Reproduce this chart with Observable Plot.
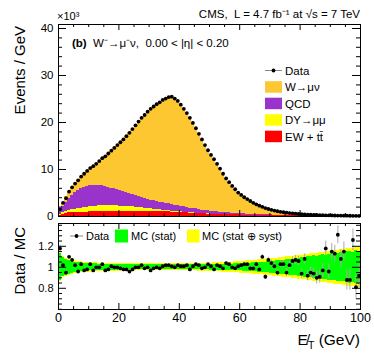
<!DOCTYPE html>
<html><head><meta charset="utf-8">
<script src="https://cdn.jsdelivr.net/npm/d3@7"></script>
<script src="https://cdn.jsdelivr.net/npm/@observablehq/plot@0.6"></script>
<style>
body{margin:0;background:#fff;}
#c{position:relative;width:374px;height:359px;font-family:"Liberation Sans",Arial,sans-serif;}
#c svg{position:absolute;left:0;overflow:visible;}
text{white-space:pre;}
</style></head><body><div id="c"></div>
<script>
// bin lower edges (GeV), 1 GeV bins
const binEdges = d3.range(0, 100);
// Events / GeV (x10^3)
const dataVals = [1.5,2.9,3.9,5.3,6.2,7.0,7.7,8.5,9.1,9.7,
10.3,10.7,11.2,11.8,12.4,12.8,13.4,14.0,14.6,15.2,
15.8,16.4,17.1,17.8,18.6,19.4,20.2,21.0,21.6,22.3,
22.9,23.4,23.9,24.3,24.8,25.1,25.4,25.5,25.1,24.6,
23.8,22.9,22.0,21.0,19.9,18.8,17.6,16.4,15.2,14.1,
13.1,12.2,11.2,10.2,9.1,8.1,7.3,6.5,5.8,5.1,
4.6,4.1,3.7,3.3,2.9,2.6,2.3,2.05,1.8,1.6,
1.42,1.26,1.12,1.0,0.9,0.81,0.73,0.66,0.6,0.54,
0.49,0.45,0.41,0.38,0.35,0.32,0.3,0.28,0.26,0.24,
0.22,0.21,0.2,0.19,0.18,0.17,0.16,0.15,0.14,0.13];
const ewVals = [0.3,0.5,0.65,0.75,0.8,0.85,0.88,0.9,0.92,0.94,
0.96,0.98,1.0,1.02,1.04,1.05,1.06,1.07,1.08,1.1,
1.12,1.13,1.14,1.15,1.16,1.17,1.16,1.15,1.14,1.12,
1.1,1.08,1.06,1.04,1.02,1.0,0.97,0.94,0.9,0.87,
0.84,0.8,0.76,0.72,0.68,0.65,0.62,0.59,0.56,0.53,
0.5,0.48,0.46,0.44,0.42,0.4,0.38,0.36,0.34,0.32,
0.3,0.29,0.27,0.26,0.25,0.23,0.22,0.21,0.2,0.19,
0.18,0.17,0.16,0.15,0.14,0.13,0.13,0.12,0.11,0.11,
0.1,0.1,0.09,0.09,0.08,0.08,0.08,0.07,0.07,0.07,
0.06,0.06,0.06,0.06,0.05,0.05,0.05,0.05,0.05,0.04];
const dyVals = [0.15,0.3,0.4,0.5,0.6,0.7,0.8,0.9,0.95,1.0,
1.1,1.15,1.2,1.22,1.25,1.25,1.25,1.24,1.2,1.15,
1.1,1.05,1.0,0.95,0.88,0.82,0.76,0.7,0.64,0.58,
0.52,0.47,0.42,0.37,0.32,0.28,0.24,0.21,0.18,0.15,
0.13,0.11,0.09,0.08,0.07,0.06,0.05,0.04,0.04,0.03,
0.03,0.03,0.02,0.02,0.02,0.02,0.02,0.02,0.01,0.01,
0.01,0.01,0.01,0.01,0.01,0.01,0.01,0.01,0.01,0.01,
0,0,0,0,0,0,0,0,0,0,
0,0,0,0,0,0,0,0,0,0,
0,0,0,0,0,0,0,0,0,0];
const qcdVals = [0.6,1.3,2.0,2.6,3.1,3.6,3.9,4.1,4.3,4.4,
4.5,4.4,4.5,4.3,4.2,4.0,3.9,3.7,3.6,3.5,
3.3,3.1,3.0,2.8,2.6,2.5,2.3,2.2,2.0,1.9,
1.8,1.75,1.7,1.6,1.55,1.5,1.5,1.4,1.35,1.3,
1.25,1.2,1.1,1.0,0.95,0.9,0.8,0.75,0.7,0.65,
0.6,0.55,0.5,0.48,0.45,0.4,0.37,0.35,0.32,0.3,
0.28,0.26,0.25,0.23,0.22,0.2,0.19,0.18,0.17,0.16,
0.15,0.14,0.13,0.12,0.11,0.1,0.1,0.09,0.08,0.08,
0.07,0.07,0.06,0.06,0.05,0.05,0.05,0.04,0.04,0.04,
0.03,0.03,0.03,0.03,0.03,0.02,0.02,0.02,0.02,0.02];
const wVals = [0.25,0.75,1.1,1.3,1.55,1.8,2.15,2.55,2.95,3.35,
3.7,4.15,4.5,5.2,5.8,6.5,7.1,7.9,8.7,9.4,
10.3,11.1,12.0,12.9,13.9,14.9,15.9,16.9,17.8,18.7,
19.5,20.1,20.7,21.3,21.9,22.3,22.7,22.9,22.7,22.3,
21.6,20.8,20.0,19.2,18.2,17.2,16.1,15.0,13.9,12.8,
11.9,11.0,10.1,9.2,8.2,7.2,6.5,5.7,5.1,4.4,
4.01,3.54,3.17,2.8,2.42,2.16,1.88,1.64,1.44,1.24,
1.08,0.94,0.83,0.73,0.65,0.58,0.5,0.45,0.41,0.35,
0.32,0.28,0.26,0.23,0.22,0.19,0.17,0.17,0.15,0.13,
0.13,0.12,0.11,0.1,0.1,0.1,0.09,0.08,0.07,0.07];
// Data / MC
const ratioVals = [1.18,1.02,0.95,1.1,1.07,1.02,0.96,1.03,0.97,0.98,
1.03,0.97,1.0,1.0,1.03,0.97,0.98,1.01,1.0,1.0,
0.99,0.98,0.98,0.96,0.98,1.0,1.0,1.02,0.99,1.0,
0.97,0.99,1.0,0.99,1.01,1.02,1.02,1.01,1.0,1.02,
1.01,1.01,1.02,0.98,1.01,1.03,1.02,0.99,1.0,1.03,
1.01,0.98,1.02,1.01,0.99,1.04,1.03,1.0,0.99,1.01,
1.02,1.03,1.03,0.99,0.99,1.03,0.98,1.1,0.91,1.07,
1.04,1.01,0.95,1.03,1.03,0.95,1.02,1.06,1.07,1.06,
0.94,1.08,0.92,0.95,0.94,0.9,0.91,0.97,1.18,0.96,
1.15,1.13,1.31,1.08,1.15,0.88,0.88,1.26,0.81,0.92];
const ratioErr = [0.03,0.02,0.016,0.014,0.013,0.012,0.011,0.011,0.01,0.01,
0.01,0.01,0.01,0.01,0.01,0.01,0.01,0.01,0.01,0.01,
0.008,0.008,0.008,0.008,0.008,0.008,0.008,0.008,0.008,0.008,
0.008,0.008,0.008,0.008,0.008,0.008,0.008,0.008,0.008,0.008,
0.008,0.008,0.008,0.008,0.008,0.008,0.008,0.008,0.008,0.008,
0.009,0.009,0.01,0.01,0.011,0.011,0.012,0.012,0.013,0.014,
0.015,0.016,0.016,0.017,0.019,0.02,0.021,0.022,0.024,0.025,
0.027,0.028,0.03,0.032,0.033,0.035,0.037,0.039,0.041,0.043,
0.045,0.048,0.05,0.053,0.056,0.06,0.062,0.066,0.07,0.073,
0.077,0.08,0.085,0.088,0.092,0.095,0.1,0.105,0.11,0.115];
const statBand = [0.13,0.09,0.075,0.065,0.055,0.05,0.045,0.042,0.04,0.037,
0.035,0.033,0.032,0.03,0.03,0.029,0.028,0.028,0.027,0.027,
0.026,0.025,0.026,0.025,0.024,0.025,0.024,0.023,0.024,0.023,
0.023,0.022,0.023,0.022,0.022,0.021,0.022,0.021,0.022,0.021,
0.022,0.022,0.023,0.022,0.023,0.023,0.024,0.024,0.025,0.025,
0.026,0.026,0.027,0.028,0.028,0.029,0.03,0.031,0.032,0.033,
0.035,0.036,0.038,0.04,0.041,0.044,0.046,0.048,0.05,0.053,
0.056,0.058,0.061,0.065,0.067,0.071,0.074,0.078,0.081,0.086,
0.09,0.093,0.098,0.102,0.108,0.105,0.114,0.118,0.112,0.124,
0.13,0.122,0.136,0.14,0.133,0.148,0.152,0.142,0.158,0.15];
const totBand = [0.14,0.1,0.085,0.075,0.065,0.06,0.055,0.052,0.05,0.047,
0.045,0.043,0.042,0.04,0.04,0.039,0.038,0.038,0.037,0.037,
0.036,0.035,0.035,0.034,0.034,0.034,0.033,0.033,0.033,0.032,
0.032,0.032,0.032,0.032,0.032,0.031,0.032,0.032,0.032,0.032,
0.033,0.033,0.034,0.034,0.035,0.035,0.036,0.037,0.038,0.039,
0.04,0.041,0.042,0.044,0.045,0.047,0.048,0.05,0.052,0.054,
0.056,0.058,0.06,0.063,0.065,0.068,0.07,0.073,0.076,0.079,
0.082,0.085,0.088,0.092,0.095,0.098,0.102,0.105,0.109,0.113,
0.117,0.12,0.124,0.128,0.132,0.136,0.14,0.144,0.148,0.152,
0.156,0.16,0.164,0.168,0.172,0.176,0.18,0.183,0.186,0.19];

const comps = ["EW + tt\u0304", "DY\u2192\u03bc\u03bc", "QCD", "W\u2192\u03bc\u03bd"];
const compColors = ["#ff0000", "#ffff00", "#9933cc", "#fdc731"];
const xMajor = [0, 20, 40, 60, 80, 100];
const xMinor = [5,10,15,25,30,35,45,50,55,65,70,75,85,90,95];
const yMajorTop = [0, 10, 20, 30, 40];
const yMinorTop = [2,4,6,8,12,14,16,18,22,24,26,28,32,34,36,38,40];
const yMajorR = [0.8, 1, 1.2];
const yMinorR = [0.6,0.65,0.7,0.75,0.85,0.9,0.95,1.05,1.1,1.15,1.25,1.3,1.35,1.4];

const FONT = '"Liberation Sans", Arial, sans-serif';
const PW = 302; // plot width in px (374-58-14)

const stackRows = [];
binEdges.forEach((b, i) => {
  [ewVals, dyVals, qcdVals, wVals].forEach((arr, k) => stackRows.push({x1: b, x2: b + 1, v: arr[i], c: comps[k]}));
});
const pts = binEdges.map((b, i) => ({x: b + 0.5, y: dataVals[i], r: ratioVals[i], e: ratioErr[i], b, s: statBand[i], t: totBand[i]}));

const H1 = 192;
const topPlot = Plot.plot({
  width: 374, height: 220,
  marginLeft: 58, marginRight: 14, marginTop: 24, marginBottom: 4,
  x: {domain: [0, 100], axis: null},
  y: {domain: [0, 40.85]},
  color: {domain: comps, range: compColors},
  style: {fontFamily: FONT, background: "transparent", color: "black"},
  marks: [
    Plot.rectY(stackRows, {x1: "x1", x2: "x2", y: "v", fill: "c", shapeRendering: "crispEdges"}),
    Plot.dot(pts, {x: "x", y: "y", r: 1.9, fill: "black"}),
    Plot.frame({stroke: "black"}),
    Plot.tickY(yMajorTop, {y: d => d, insetRight: PW - 8, stroke: "black"}),
    Plot.tickY(yMinorTop, {y: d => d, insetRight: PW - 4, stroke: "black"}),
    Plot.tickY(yMajorTop, {y: d => d, insetLeft: PW - 8, stroke: "black"}),
    Plot.tickY(yMinorTop, {y: d => d, insetLeft: PW - 4, stroke: "black"}),
    Plot.tickX(xMajor, {x: d => d, insetTop: H1 - 6, stroke: "black"}),
    Plot.tickX(xMinor, {x: d => d, insetTop: H1 - 3, stroke: "black"}),
    Plot.tickX(xMajor, {x: d => d, insetBottom: H1 - 6, stroke: "black"}),
    Plot.tickX(xMinor, {x: d => d, insetBottom: H1 - 3, stroke: "black"}),
    Plot.axisY(yMajorTop, {anchor: "left", tickSize: 0, tickPadding: 5, fontSize: 11.5, label: null})
  ]
});

const H2 = 86;
const botPlot = Plot.plot({
  width: 374, height: 137,
  marginLeft: 58, marginRight: 14, marginTop: 1, marginBottom: 50,
  x: {domain: [0, 100]},
  y: {domain: [0.598, 1.417]},
  style: {fontFamily: FONT, background: "transparent", color: "black"},
  marks: [
    Plot.rectY(pts, {x1: "b", x2: d => d.b + 1, y1: d => 1 - d.t, y2: d => 1 + d.t, fill: "#ffff00", shapeRendering: "crispEdges"}),
    Plot.rectY(pts, {x1: "b", x2: d => d.b + 1, y1: d => 1 - d.s, y2: d => 1 + d.s, fill: "#00ff00", shapeRendering: "crispEdges"}),
    Plot.ruleX(pts, {x: "x", y1: d => d.r - d.e, y2: d => d.r + d.e, stroke: "#aaaaaa", strokeWidth: 1}),
    Plot.dot(pts, {x: "x", y: "r", r: 1.9, fill: "black"}),
    Plot.frame({stroke: "black"}),
    Plot.tickY(yMajorR, {y: d => d, insetRight: PW - 8, stroke: "black"}),
    Plot.tickY(yMinorR, {y: d => d, insetRight: PW - 4, stroke: "black"}),
    Plot.tickY(yMajorR, {y: d => d, insetLeft: PW - 8, stroke: "black"}),
    Plot.tickY(yMinorR, {y: d => d, insetLeft: PW - 4, stroke: "black"}),
    Plot.tickX(xMajor, {x: d => d, insetTop: H2 - 6, stroke: "black"}),
    Plot.tickX(xMinor, {x: d => d, insetTop: H2 - 3, stroke: "black"}),
    Plot.tickX(xMajor, {x: d => d, insetBottom: H2 - 6, stroke: "black"}),
    Plot.tickX(xMinor, {x: d => d, insetBottom: H2 - 3, stroke: "black"}),
    Plot.axisY(yMajorR, {anchor: "left", tickSize: 0, tickPadding: 5, fontSize: 11, label: null, tickFormat: d => String(d)}),
    Plot.axisX(xMajor, {anchor: "bottom", tickSize: 0, tickPadding: 4, fontSize: 12.5, label: null})
  ]
});

const c = document.getElementById("c");
topPlot.style.top = "0px";
botPlot.style.top = "222px";
c.appendChild(topPlot);
c.appendChild(botPlot);

// ---- annotations, top panel ----
const g1 = d3.select(topPlot).append("g").attr("font-family", FONT).attr("fill", "black").attr("text-anchor", "start");
g1.append("text").attr("x", 57).attr("y", 20).attr("font-size", 11).attr("text-anchor", "start").text("\u00d710\u00b3");
g1.append("text").attr("x", 360).attr("y", 17.5).attr("font-size", 11.5).attr("text-anchor", "end")
  .text("CMS,  L = 4.7 fb\u207b\u00b9 at \u221as = 7 TeV");
const t1 = g1.append("text").attr("x", 72).attr("y", 46.5).attr("font-size", 11.5).attr("text-anchor", "start");
t1.append("tspan").attr("font-weight", "bold").text("(b)");
t1.append("tspan").text("  W\u207b\u2192\u03bc\u207b\u03bd,  0.00 < |\u03b7| < 0.20");
g1.append("text").attr("transform", "translate(25,26) rotate(-90)").attr("text-anchor", "end")
  .attr("font-size", 15).text("Events / GeV");

// legend
const legX = 265, rowY = [70.5, 87, 103.5, 120, 136.5];
g1.append("line").attr("x1", legX).attr("x2", legX + 17).attr("y1", rowY[0]).attr("y2", rowY[0]).attr("stroke", "#888");
g1.append("circle").attr("cx", legX + 8.5).attr("cy", rowY[0]).attr("r", 1.9).attr("fill", "black");
g1.append("text").attr("x", legX + 20).attr("y", rowY[0] + 4).attr("font-size", 11.5).attr("text-anchor", "start").text("Data");
const legComps = [comps[3], comps[2], comps[1], comps[0]];
const legCols = [compColors[3], compColors[2], compColors[1], compColors[0]];
legComps.forEach((name, k) => {
  const y = rowY[k + 1];
  g1.append("rect").attr("x", legX).attr("y", y - 5.8).attr("width", 17).attr("height", 11.5).attr("fill", legCols[k]);
  g1.append("text").attr("x", legX + 20).attr("y", y + 4).attr("font-size", 11.5).attr("text-anchor", "start").text(name);
});

// ---- annotations, ratio panel ----
const g2 = d3.select(botPlot).append("g").attr("font-family", FONT).attr("fill", "black").attr("text-anchor", "start");
g2.append("text").attr("transform", "translate(25,5) rotate(-90)").attr("text-anchor", "end")
  .attr("font-size", 15).text("Data / MC");
const xt = g2.append("text").attr("x", 360).attr("y", 123).attr("text-anchor", "end").attr("font-size", 15.5);
xt.append("tspan").text("E\u0338");
xt.append("tspan").attr("font-size", 10.5).attr("dy", 4).text("T");
xt.append("tspan").attr("dy", -4).text(" (GeV)");
// ratio legend
const ly = 14;
g2.append("line").attr("x1", 70).attr("x2", 83).attr("y1", ly).attr("y2", ly).attr("stroke", "#888");
g2.append("circle").attr("cx", 76.5).attr("cy", ly).attr("r", 1.9).attr("fill", "black");
g2.append("text").attr("x", 86).attr("y", ly + 4).attr("font-size", 11).attr("text-anchor", "start").text("Data");
g2.append("rect").attr("x", 115).attr("y", ly - 6.5).attr("width", 13).attr("height", 13).attr("fill", "#00ff00");
g2.append("text").attr("x", 131).attr("y", ly + 4).attr("font-size", 11).attr("text-anchor", "start").text("MC (stat)");
g2.append("rect").attr("x", 187).attr("y", ly - 6.5).attr("width", 12.5).attr("height", 13).attr("fill", "#ffff00");
g2.append("text").attr("x", 202).attr("y", ly + 4).attr("font-size", 11).attr("text-anchor", "start").text("MC (stat \u2295 syst)");
</script></body></html>
